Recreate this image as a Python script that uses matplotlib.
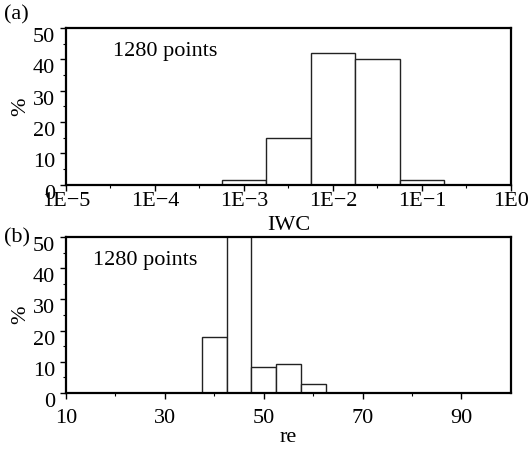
import numpy as np
import matplotlib
matplotlib.use("Agg")
import matplotlib.pyplot as plt
from matplotlib.ticker import FixedLocator, FixedFormatter

plt.rcParams['font.family'] = ['Liberation Serif', 'DejaVu Serif']
plt.rcParams['font.size'] = 16

# (a) IWC histogram, log10 bin edges (half decades)
iwc_edges = np.array([-3.25, -2.75, -2.25, -1.75, -1.25, -0.75])
iwc_pct = np.array([1.5, 15.0, 42.0, 40.0, 1.5])
iwc_ticks = [1e-5, 1e-4, 1e-3, 1e-2, 1e-1, 1e0]
iwc_labels = ["1E\u22125", "1E\u22124", "1E\u22123", "1E\u22122", "1E\u22121", "1E0"]

# (b) re histogram
re_edges = np.array([37.5, 42.5, 47.5, 52.5, 57.5, 62.5])
re_pct = np.array([18.0, 62.0, 8.3, 9.2, 2.7])
re_ticks = [10, 30, 50, 70, 90]

n_points = 1280

fig = plt.figure(figsize=(5.30, 4.51), dpi=100)
ax1 = fig.add_axes([0.1245, 0.5905, 0.8395, 0.3475])
ax2 = fig.add_axes([0.1245, 0.1293, 0.8395, 0.3445])

# Histogramm (a)
lo = 10.0 ** iwc_edges[:-1]
hi = 10.0 ** iwc_edges[1:]
ax1.bar(lo, iwc_pct, width=hi - lo, align='edge', color='white',
        edgecolor='#222222', linewidth=1.0)
ax1.set_xscale('log')
ax1.set_xlim(1e-5, 1e0)
ax1.set_ylim(0, 50)
ax1.xaxis.set_major_locator(FixedLocator(iwc_ticks))
ax1.xaxis.set_major_formatter(FixedFormatter(iwc_labels))
ax1.xaxis.set_minor_locator(FixedLocator([10 ** (k + 0.5) for k in range(-5, 0)]))
ax1.xaxis.set_minor_formatter(FixedFormatter([]))
ax1.tick_params(axis='x', which='major', pad=1)
ax1.set_xlabel("IWC", labelpad=4)
ax1.text(0.105, 0.85, f"{n_points} points", transform=ax1.transAxes, va='center')
fig.text(0.008, 0.966, "(a)", va='center')

# Histogramm (b)
ax2.bar(re_edges[:-1], re_pct, width=np.diff(re_edges), align='edge', color='white',
        edgecolor='#222222', linewidth=1.0)
ax2.set_xlim(10, 100)
ax2.set_ylim(0, 50)
ax2.set_xticks(re_ticks)
ax2.set_xticks([20, 40, 60, 80], minor=True)
ax2.tick_params(axis='x', which='major', pad=8)
ax2.set_xlabel("re", labelpad=0)
ax2.text(0.06, 0.85, f"{n_points} points", transform=ax2.transAxes, va='center')
fig.text(0.008, 0.473, "(b)", va='center')

for ax in (ax1, ax2):
    ax.set_yticks([0, 10, 20, 30, 40, 50])
    ax.set_yticks([5, 15, 25, 35, 45], minor=True)
    ax.tick_params(axis='y', which='major', pad=4)
    ax.tick_params(which='major', direction='out', length=4, width=1)
    ax.tick_params(which='minor', direction='out', length=2, width=0.8)
    plt.setp(ax.get_yticklabels(), va='top')
    ax.set_ylabel("%", labelpad=2)
    for s in ax.spines.values():
        s.set_linewidth(1.6)

fig.savefig("out.png", dpi=100)
